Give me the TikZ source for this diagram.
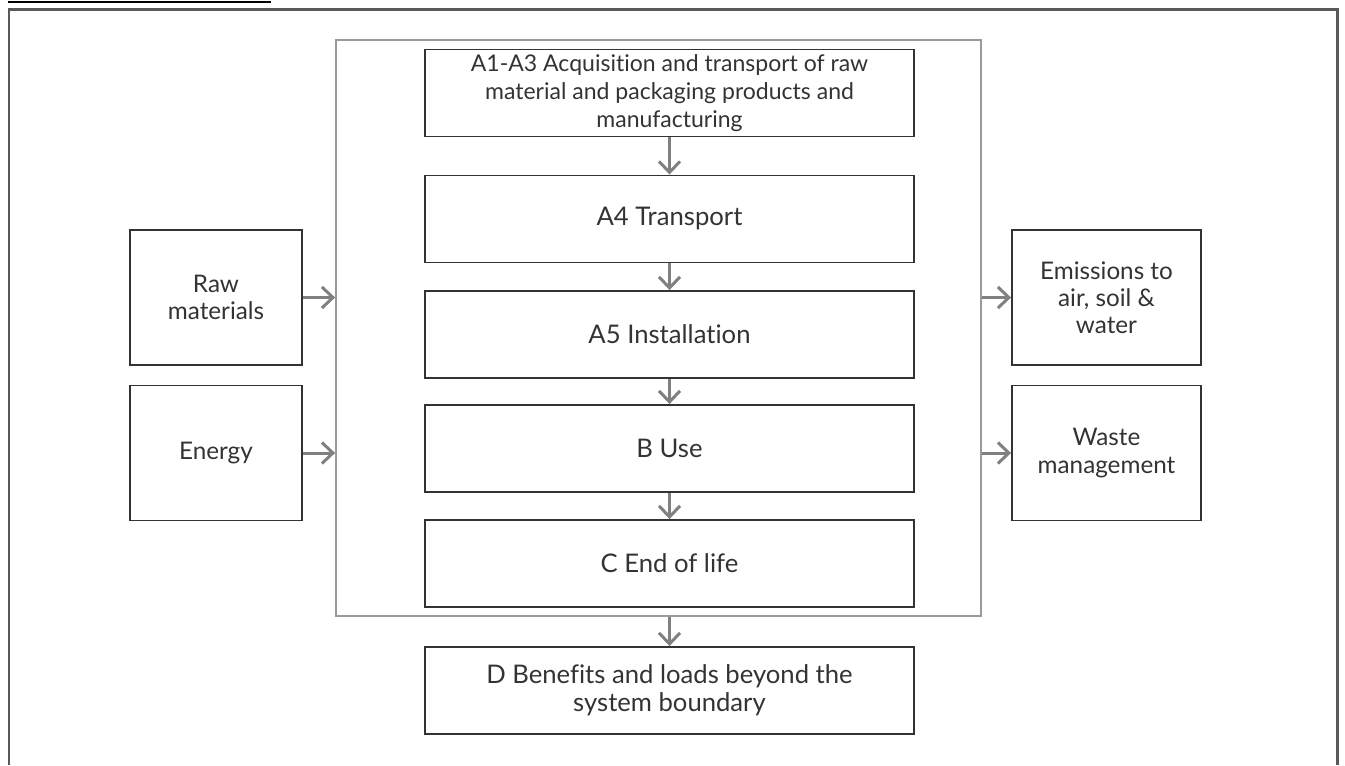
\documentclass[tikz,border=0pt]{standalone}
\usepackage{fontspec}
\setmainfont{Lato}[Ligatures=NoCommon]
\usepackage{tikz}
\usetikzlibrary{arrows.meta}
\definecolor{boxline}{HTML}{333333}
\definecolor{flowgrey}{HTML}{808080}
\definecolor{edgegrey}{HTML}{9A9A9A}
\tikzstyle{stage}=[draw=boxline, line width=1.1pt, minimum width=9.78cm, minimum height=1.74cm, inner sep=0pt, align=center, text=boxline, font=\fontsize{14.6}{15.9}\selectfont]
\tikzstyle{input}=[draw=boxline, line width=1.1pt, minimum width=3.44cm, minimum height=2.7cm, inner sep=0pt, align=center, text=boxline, font=\fontsize{13.8}{15.5}\selectfont]
\tikzstyle{output}=[input, minimum width=3.78cm]
\tikzstyle{flow}=[draw=flowgrey, line width=1.7pt, -{Straight Barb[length=2.2mm, width=4.2mm]}]

\begin{document}
\begin{tikzpicture}[x=0.02cm, y=-0.02cm]
    \useasboundingbox (0,0) rectangle (1345,765);
    % frame and heading rule
    \draw[line width=1pt] (8,1.8) -- (271,1.8);
    \draw[draw=black!65, line width=1.6pt] (9,765) -- (9,9.5) -- (1337.5,9.5) -- (1337.5,765);
    % system boundary
    \node[draw=edgegrey, line width=1.1pt, minimum width=12.9cm, minimum height=11.52cm, inner sep=0pt] (sys) at (658.5,328) {};
    % life cycle stages
    \node[stage, font=\fontsize{13.1}{15.9}\selectfont] (a13) at (669.5,93) {A1-A3 Acquisition and transport of raw\\material and packaging products and\\manufacturing};
    \node[stage] (a4) at (669.5,219) {A4 Transport};
    \node[stage] (a5) at (669.5,334.5) {A5 Installation};
    \node[stage] (b) at (669.5,448.5) {B Use};
    \node[stage] (c) at (669.5,563.5) {C End of life};
    \node[stage] (d) at (669.5,690.5) {D Benefits and loads beyond the\\system boundary};
    % inputs and outputs
    \node[input] (raw) at (216,297.5) {Raw\\materials};
    \node[input] (energy) at (216,453) {Energy};
    \node[output] (emis) at (1106.5,297.5) {Emissions to\\air, soil \&\\water};
    \node[output] (waste) at (1106.5,453) {Waste\\management};
    \draw[flow] (a13) -- (a4);
    \draw[flow] (a4) -- (a5);
    \draw[flow] (a5) -- (b);
    \draw[flow] (b) -- (c);
    \draw[flow] (d.north |- sys.south) -- (d);
    \draw[flow] (raw.east) -- (raw.east -| sys.west);
    \draw[flow] (energy.east) -- (energy.east -| sys.west);
    \draw[flow] (emis.west -| sys.east) -- (emis.west);
    \draw[flow] (waste.west -| sys.east) -- (waste.west);
\end{tikzpicture}
\end{document}
